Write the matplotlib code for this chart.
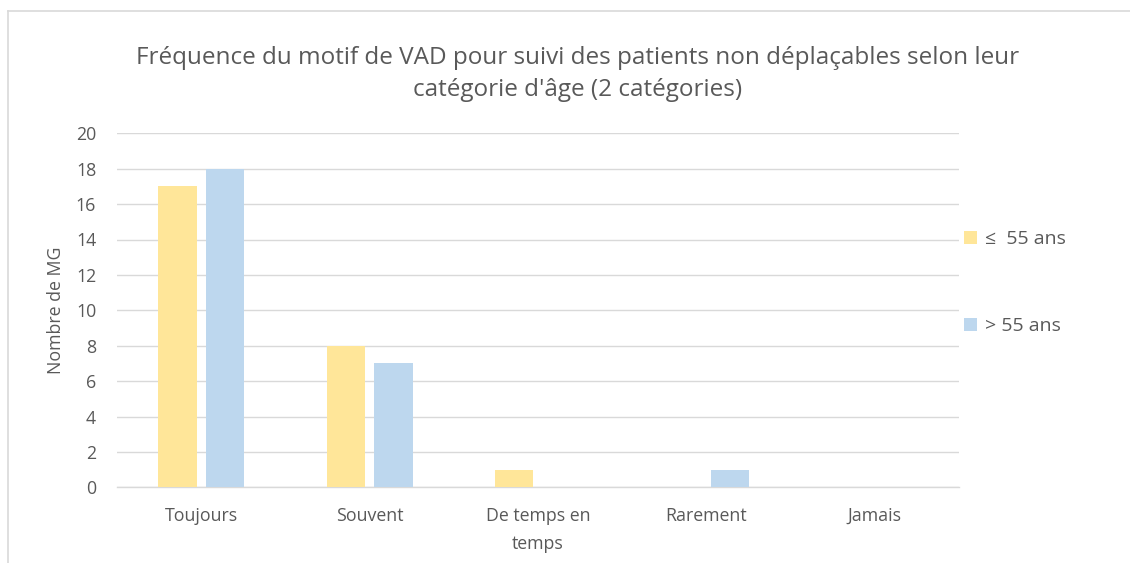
import numpy as np
import matplotlib.pyplot as plt
from matplotlib.lines import Line2D

categories = ["Toujours", "Souvent", "De temps en\ntemps", "Rarement", "Jamais"]
le55 = [17, 8, 1, 0, 0]
gt55 = [18, 7, 0, 1, 0]
series_labels = ["\u2264  55 ans", "> 55 ans"]
title = "Fréquence du motif de VAD pour suivi des patients non déplaçables selon leur\ncatégorie d'âge (2 catégories)"

TEXT = "#595959"
GRID = "#D9D9D9"
YELLOW = "#FFE699"
BLUE = "#BDD7EE"

plt.rcParams["font.family"] = ["Open Sans", "DejaVu Sans"]

W, H = 1130, 563
fig = plt.figure(figsize=(W / 100, H / 100), dpi=100)
ax = fig.add_axes([117 / W, 1 - 487.3 / H, 842 / W, 354 / H])

x = np.arange(len(categories))
w = 0.228
ax.bar(x - 0.141, le55, width=w, color=YELLOW, label=series_labels[0], zorder=3)
ax.bar(x + 0.141, gt55, width=w, color=BLUE, label=series_labels[1], zorder=3)

ax.set_xlim(-0.5, len(categories) - 0.5)
ax.set_ylim(0, 20)
ax.set_yticks(range(0, 21, 2))
ax.yaxis.grid(True, color=GRID, linewidth=1, zorder=0)
ax.set_axisbelow(True)
for s in ["top", "right", "left"]:
    ax.spines[s].set_visible(False)
ax.spines["bottom"].set_color(GRID)
ax.spines["bottom"].set_linewidth(1)
ax.tick_params(axis="both", length=0, colors=TEXT, labelsize=12.8)
ax.tick_params(axis="x", pad=14)
ax.tick_params(axis="y", pad=15)
ax.set_xticks(x)
ax.set_xticklabels(categories, color=TEXT, linespacing=1.75)
ax.set_ylabel("Nombre de MG", color=TEXT, fontsize=12.8, labelpad=8)

fig.text(578 / W, 1 - 46 / H, title, ha="center", va="top", fontsize=17.5, color=TEXT,
         linespacing=1.45)

leg = ax.legend(loc="upper left", bbox_to_anchor=(0.99, 0.765), frameon=False,
                fontsize=14, labelspacing=3.55, handlelength=0.65, handleheight=0.65,
                handletextpad=0.4, borderaxespad=0.3)
for t in leg.get_texts():
    t.set_color(TEXT)

# chart border (partially visible in the reference)
fig.add_artist(Line2D([8 / W, 8 / W], [0, 1 - 11 / H], color=GRID, lw=1.2))
fig.add_artist(Line2D([8 / W, 1], [1 - 11 / H, 1 - 11 / H], color=GRID, lw=1.2))

fig.savefig("out.png", dpi=100)
